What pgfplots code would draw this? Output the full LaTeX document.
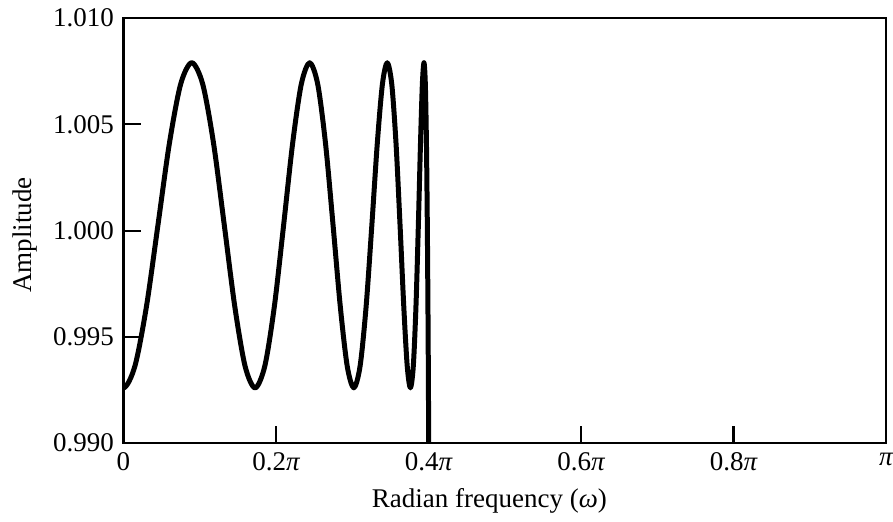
\documentclass[border=0pt]{standalone}
\usepackage{fontspec}
\setmainfont{Liberation Serif}
\usepackage{pgfplots}
\pgfplotsset{compat=1.18}
\begin{document}
\begin{tikzpicture}
\useasboundingbox (-45.7pt,-28.9pt) rectangle (285.0pt,164.1pt);
\begin{axis}[
  at={(0,0)}, anchor=south west,
  scale only axis, width=282.4pt, height=157.4pt,
  xmin=0, xmax=1, ymin=0.990, ymax=1.010,
  axis line style={line width=0.9pt},
  tick pos=left, tick align=inside,
  major tick length=6.5pt,
  every tick/.style={line width=0.8pt, black},
  xtick={0,0.2,0.4,0.6,0.8,1},
  xticklabels={0,0.2{\itshape π},0.4{\itshape π},0.6{\itshape π},0.8{\itshape π},{\itshape π}},
  ytick={0.990,0.995,1.000,1.005,1.010},
  yticklabels={0.990,0.995,1.000,1.005,1.010},
  tick label style={font=\fontsize{10}{12}\selectfont},
  label style={font=\fontsize{10}{12}\selectfont},
  xlabel={Radian frequency (\textit{ω})},
  ylabel={Amplitude},
  xlabel style={at={(axis description cs:0.48,0)}, anchor=center, yshift=-21.5pt},
  ylabel style={at={(axis description cs:-0.129,0.49)}, anchor=center},
]
\addplot[black, line width=1.85pt, line join=round, smooth, tension=0.5] coordinates {
(-0.015131,0.99363)
(0,0.9926) (0.015131,0.99363) (0.030228,0.99643) (0.045260,1.00025)
(0.060193,1.00408) (0.074995,1.00688) (0.089638,1.0079) (0.104093,1.00688)
(0.118330,1.00408) (0.132327,1.00025) (0.146058,0.99643) (0.159503,0.99363)
(0.172643,0.9926) (0.185459,0.99363) (0.197938,0.99643) (0.210063,1.00025)
(0.221829,1.00408) (0.233223,1.00688) (0.244237,1.0079) (0.254865,1.00688)
(0.265103,1.00408) (0.274950,1.00025) (0.284403,0.99643) (0.293463,0.99363)
(0.302128,0.9926) (0.310401,0.99363) (0.318282,0.99643) (0.325775,1.00025)
(0.332883,1.00408) (0.339609,1.00688) (0.345958,1.0079) (0.351933,1.00688)
(0.357538,1.00408) (0.362777,1.00025) (0.367656,0.99643) (0.372177,0.99363)
(0.376346,0.9926) (0.380165,0.99363) (0.383638,0.99643) (0.386771,1.00025)
(0.389564,1.00408) (0.392021,1.00688) (0.394145,1.0079) (0.395939,1.00688)
(0.397403,1.00408) (0.398540,1.00025) (0.399352,0.99643) (0.399838,0.99363)
(0.4,0.9926) (0.4008,0.985) (0.402,0.96)
};
\end{axis}
\end{tikzpicture}
\end{document}
